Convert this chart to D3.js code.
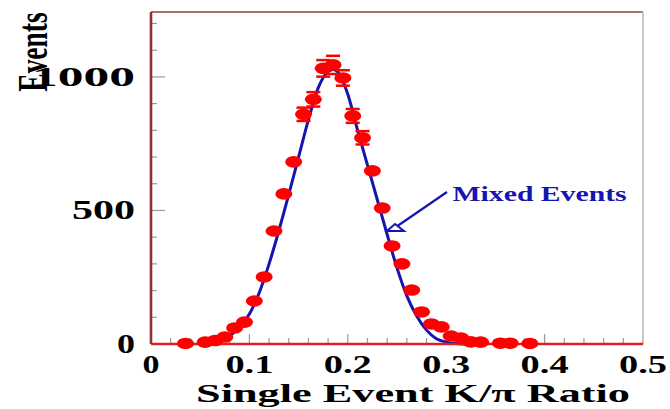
<!DOCTYPE html>
<html>
<head>
<meta charset="utf-8">
<script src="https://cdn.jsdelivr.net/npm/d3@7"></script>
<style>
  body { margin: 0; background: #fff; }
  text { font-family: "Liberation Serif", "Times New Roman", serif; font-weight: bold; }
</style>
</head>
<body>
<div id="chart"></div>
<script>
// measured points (K/pi ratio bin centre, events, error)
const ratio = [0.035, 0.055, 0.065, 0.075, 0.085, 0.095, 0.105, 0.115, 0.125, 0.135, 0.145,
  0.155, 0.165, 0.175, 0.185, 0.195, 0.205, 0.215, 0.225, 0.235, 0.245, 0.255, 0.265,
  0.275, 0.285, 0.295, 0.305, 0.315, 0.325, 0.335, 0.355, 0.365, 0.385];
const events = [2, 7, 13, 26, 60, 82, 161, 251, 423, 562, 682,
  860, 916, 1032, 1045, 996, 854, 772, 648, 509, 367, 300, 202,
  120, 75, 64, 30, 22, 8, 7, 3, 3, 2];
const errors = [0, 0, 0, 0, 0, 0, 0, 0, 0, 0, 0,
  25, 27, 31, 34, 29, 26, 25, 0, 0, 0, 0, 0,
  0, 0, 0, 0, 0, 0, 0, 0, 0, 0];

// mixed events curve
const mixedX = [0.05, 0.06, 0.07, 0.08, 0.09, 0.10, 0.11, 0.12, 0.13, 0.14, 0.15, 0.16, 0.17,
  0.18, 0.185, 0.19, 0.20, 0.21, 0.22, 0.23, 0.24, 0.25, 0.26, 0.27, 0.28, 0.29, 0.30, 0.31, 0.32, 0.33];
const mixedY = [0, 2, 10, 30, 65, 112, 192, 300, 425, 560, 700, 840, 960,
  1020, 1028, 1018, 935, 800, 670, 540, 410, 285, 180, 105, 52, 20, 7, 2, 0, 0];

const xTicks = [0, 0.1, 0.2, 0.3, 0.4, 0.5];
const xTickLabels = ["0", "0.1", "0.2", "0.3", "0.4", "0.5"];
const yTicks = [0, 500, 1000];
const yTickLabels = ["0", "500", "1000"];

const svg = d3.select("#chart").append("svg")
  .attr("width", 670)
  .attr("height", 409);

const x = d3.scaleLinear().domain([0, 0.5]).range([151, 643]);
const y = d3.scaleLinear().domain([0, 1243]).range([344, 12]);

// frame top / right
svg.append("line").attr("x1", x(0)).attr("x2", x(0.5)).attr("y1", y(1243)).attr("y2", y(1243))
  .attr("stroke", "#a87070").attr("stroke-width", 2);
svg.append("line").attr("x1", x(0.5)).attr("x2", x(0.5)).attr("y1", y(1243)).attr("y2", y(0))
  .attr("stroke", "#c8c8c8").attr("stroke-width", 2);

// ticks (inside)
const tickG = svg.append("g").attr("stroke", "#9a9a9a").attr("stroke-width", 1.2);
d3.range(100, 1250, 100).forEach(v => {
  const len = v % 500 === 0 ? 14 : 6;
  tickG.append("line").attr("x1", x(0)).attr("x2", x(0) + len).attr("y1", y(v)).attr("y2", y(v));
});
d3.range(0.02, 0.5, 0.02).forEach(v => {
  const major = Math.abs(v * 10 - Math.round(v * 10)) < 1e-6;
  const len = major ? 10 : 6;
  tickG.append("line").attr("x1", x(v)).attr("x2", x(v)).attr("y1", y(0)).attr("y2", y(0) - len);
});

// mixed events curve
const line = d3.line()
  .x((d, i) => x(mixedX[i]))
  .y(d => y(d))
  .curve(d3.curveMonotoneX);
svg.append("path")
  .datum(mixedY)
  .attr("d", line)
  .attr("fill", "none")
  .attr("stroke", "#1515b0")
  .attr("stroke-width", 3);

// axes lines
svg.append("line").attr("x1", x(0)).attr("x2", x(0)).attr("y1", y(1243)).attr("y2", y(0))
  .attr("stroke", "#8e3030").attr("stroke-width", 2.6);
svg.append("line").attr("x1", x(0)).attr("x2", x(0.5)).attr("y1", y(0)).attr("y2", y(0))
  .attr("stroke", "#e02020").attr("stroke-width", 2.6);

// error bars
const errG = svg.append("g").attr("stroke", "#ff0000").attr("stroke-width", 2.5);
ratio.forEach((r, i) => {
  if (!errors[i]) return;
  [events[i] - errors[i], events[i] + errors[i]].forEach(v => {
    errG.append("line").attr("x1", x(r) - 7).attr("x2", x(r) + 7).attr("y1", y(v)).attr("y2", y(v));
  });
});

// data points
svg.append("g").selectAll("ellipse")
  .data(events)
  .enter().append("ellipse")
  .attr("cx", (d, i) => x(ratio[i]))
  .attr("cy", d => y(d))
  .attr("rx", 8.5)
  .attr("ry", 5.8)
  .attr("fill", "#ff0000");

// tick labels
const yLabW = [18, 63, 103];
yTicks.forEach((v, i) => {
  svg.append("text")
    .attr("x", 135).attr("y", y(v) + 9)
    .attr("text-anchor", "end")
    .style("font-size", "28px")
    .attr("textLength", yLabW[i]).attr("lengthAdjust", "spacingAndGlyphs")
    .text(yTickLabels[i]);
});
xTicks.forEach((v, i) => {
  svg.append("text")
    .attr("x", x(v)).attr("y", 373)
    .attr("text-anchor", "middle")
    .style("font-size", "25px")
    .attr("textLength", i === 0 ? 17 : 48).attr("lengthAdjust", "spacingAndGlyphs")
    .text(xTickLabels[i]);
});

// axis titles
svg.append("text")
  .attr("x", 413).attr("y", 402)
  .attr("text-anchor", "middle")
  .style("font-size", "26px")
  .attr("textLength", 434).attr("lengthAdjust", "spacingAndGlyphs")
  .text("Single Event K/\u03c0 Ratio");

// y title: squeezed along the text, stretched across it like the original
svg.append("text")
  .attr("transform", "translate(47,52)rotate(-90)scale(1,1.55)")
  .attr("text-anchor", "middle")
  .style("font-size", "27.5px")
  .text("Events");

// annotation
const tip = [0.2398, 423], tail = [0.3008, 569];
svg.append("line")
  .attr("x1", x(tail[0])).attr("y1", y(tail[1]))
  .attr("x2", x(tip[0]) + 9).attr("y2", y(tip[1]) - 4)
  .attr("stroke", "#1515b0").attr("stroke-width", 2.2);
const tx = x(tip[0]), ty = y(tip[1]);
svg.append("path")
  .attr("d", `M${tx},${ty} L${tx + 8},${ty - 7} L${tx + 17},${ty} Z`)
  .attr("fill", "#fff")
  .attr("stroke", "#1515b0").attr("stroke-width", 2);

svg.append("text")
  .attr("x", x(0.3065)).attr("y", y(535))
  .style("font-size", "20px")
  .attr("fill", "#1515b0")
  .attr("textLength", 174).attr("lengthAdjust", "spacingAndGlyphs")
  .text("Mixed Events");
</script>
</body>
</html>
